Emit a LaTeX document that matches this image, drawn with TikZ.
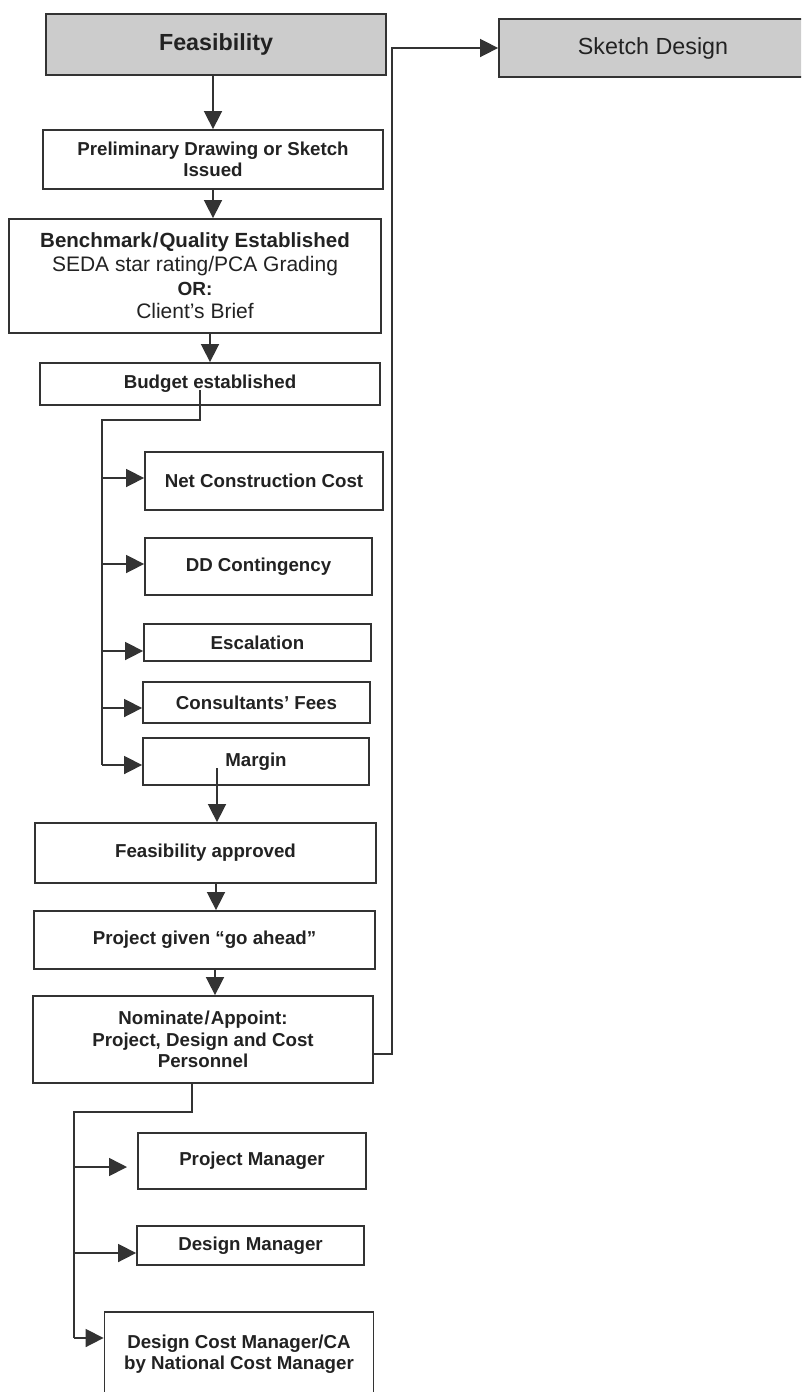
\documentclass[tikz,border=0pt]{standalone}
\usepackage{fontspec}
\setmainfont{Liberation Sans}
\usetikzlibrary{arrows.meta}
\definecolor{ink}{HTML}{333333}
\definecolor{txt}{HTML}{222222}
\definecolor{shade}{HTML}{CCCCCC}
\newcommand\bodyfont{\fontsize{18.7}{21.5}\selectfont\bfseries}
\newcommand\bigfont{\fontsize{23.3}{27}\selectfont}
\tikzset{
  box/.style={draw=ink, line width=1.8pt, inner sep=0pt, align=center, text=txt, font=\bodyfont},
  greybox/.style={box, fill=shade},
  link/.style={draw=ink, line width=1.6pt},
  arr/.style={link, -{Triangle[length=18pt,width=18pt]}},
}
\begin{document}
\begin{tikzpicture}[x=1pt,y=-1pt]
\clip (0,0) rectangle (801,1392);
\fill[white] (0,0) rectangle (801,1392);

% main column
\node[greybox, minimum width=340, minimum height=61, font=\bigfont\bfseries] (feas) at (216,44.5) {Feasibility};
\node[greybox, minimum width=308, minimum height=58, font=\bigfont] (sketch) at (653,48) {Sketch Design};
\node[box, minimum width=340, minimum height=59] (prelim) at (213,159.5) {Preliminary Drawing or Sketch\\Issued};
\node[box, minimum width=372, minimum height=114, font=\fontsize{21}{23.7}\selectfont] (bench) at (195,276)
  {{\fontsize{20.5}{23.7}\selectfont\bfseries Benchmark\kern1pt/\kern1ptQuality Established}\\
   SEDA star rating/PCA Grading\\
   {\fontsize{19}{23.7}\selectfont\bfseries OR:}\\
   Client’s Brief};
\node[box, minimum width=340, minimum height=42] (budget) at (210,384) {Budget established};

% budget components
\node[box, minimum width=238, minimum height=58] (ncc) at (264,481) {Net Construction Cost};
\node[box, minimum width=227, minimum height=57] (dd) at (258.5,566.5) {DD Contingency};
\node[box, minimum width=227, minimum height=37] (esc) at (257.5,642.5) {Escalation};
\node[box, minimum width=227, minimum height=41] (cons) at (256.5,702.5) {Consultants’ Fees};
\node[box, minimum width=226, minimum height=47] (margin) at (256,761.5) {Margin};

\node[box, minimum width=341, minimum height=60] (fa) at (205.5,853) {Feasibility approved};
\node[box, minimum width=341, minimum height=58] (pg) at (204.5,940) {Project given “go ahead”};
\node[box, minimum width=340, minimum height=87] (nom) at (203,1039.5) {Nominate\kern1pt/\kern1ptAppoint:\\Project, Design and Cost\\Personnel};

% personnel
\node[box, minimum width=228, minimum height=56] (pm) at (252,1161) {Project Manager};
\node[box, minimum width=227, minimum height=39] (dm) at (250.5,1245.5) {Design Manager};
\node[box, minimum width=269, minimum height=84] (dcm) at (239,1354) {Design Cost Manager/CA\\by National Cost Manager};

% connectors, main column
\draw[arr] (feas.south -| prelim.north) -- (prelim.north);
\draw[arr] (prelim.south) -- (prelim.south |- bench.north);
\draw[arr] (bench.south -| budget.north) -- (budget.north);

% budget trunk
\coordinate (bs) at (200,390);
\coordinate (bt) at (102,420);
\coordinate (bb) at (102,765);
\draw[link] (bs) |- (bt) -- (bb);
\draw[arr] (bt |- 0,478) -- (ncc.west |- 0,478);
\draw[arr] (bt |- 0,564) -- (dd.west |- 0,564);
\draw[arr] (bt |- 0,651) -- (esc.west |- 0,651);
\draw[arr] (bt |- 0,708) -- (cons.west |- 0,708);
\draw[arr] (bb) -- (margin.west |- bb);

% margin to approved
\coordinate (ms) at (217,768);
\draw[arr] (ms) -- (ms |- fa.north);
\draw[arr] (fa.south -| 216,0) -- (pg.north -| 216,0);
\draw[arr] (pg.south -| 215,0) -- (nom.north -| 215,0);

% nominate to sketch design
\draw[arr] (nom.east |- 0,1054) -| (392,48) -- (sketch.west);

% personnel trunk
\coordinate (pt) at (74,1112);
\coordinate (pb) at (74,1338);
\draw[link] (nom.south -| 192,0) |- (pt) -- (pb);
\draw[arr] (pt |- 0,1167) -- (127,1167);
\draw[arr] (pt |- 0,1253) -- (dm.west |- 0,1253);
\draw[arr] (pb) -- (dcm.west |- pb);
\end{tikzpicture}
\end{document}
